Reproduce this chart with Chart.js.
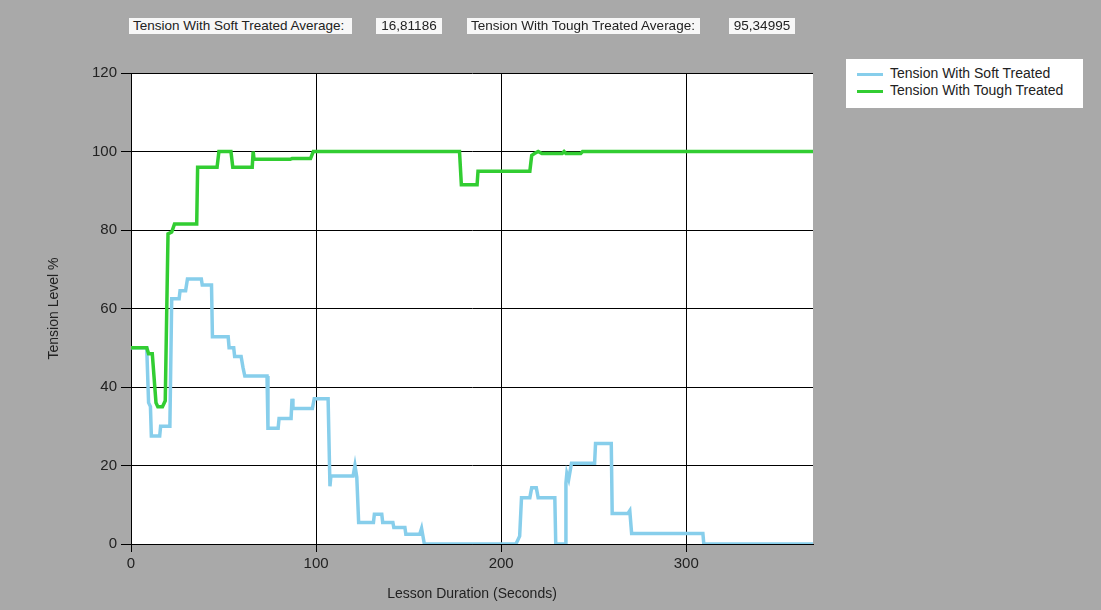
<!DOCTYPE html>
<html>
<head>
<meta charset="utf-8">
<script src="https://cdn.jsdelivr.net/npm/chart.js@4.4.1/dist/chart.umd.min.js"></script>
<style>
  body { margin: 0; background: #a9a9a9; font-family: "Liberation Sans", Arial, sans-serif; }
  #wrap { position: relative; width: 1101px; height: 610px; }
  .box { position: absolute; top: 18px; height: 16px; line-height: 16px; background: #f7f7f7;
         font-size: 13.5px; color: #222; padding: 0 4px; white-space: nowrap; }
  #legend { position: absolute; left: 846px; top: 59px; width: 237px; height: 49px; background: #fff; }
  .item { position: absolute; left: 11px; font-size: 14px; color: #222; white-space: nowrap; }
  .item span.sw { display: inline-block; width: 26px; height: 3px; vertical-align: middle; margin-right: 7px; }
</style>
</head>
<body>
<div id="wrap">
  <canvas id="chart" width="1101" height="610"></canvas>
  <div class="box" style="left:129px;width:215px">Tension With Soft Treated Average:</div>
  <div class="box" style="left:376px;width:58px;text-align:center">16,81186</div>
  <div class="box" style="left:467px;width:225px">Tension With Tough Treated Average:</div>
  <div class="box" style="left:729px;width:58px;text-align:center">95,34995</div>
  <div id="legend"></div>
</div>
<script>
// lesson time (s) / tension level (%)
const softTimes = [0, 8.5, 9.5, 10.5, 11, 15.5, 16, 21, 22, 26, 26.5, 29.5, 30.5, 38, 38.5, 43.5, 44, 52.5, 53, 55.5,
  56, 59.5, 60.5, 61.5, 73.5, 74, 79.5, 80, 86.5, 87, 87.5, 98, 99, 106.5, 107.5, 108, 120, 121, 122, 123,
  131, 131.5, 135.5, 136, 141.5, 142, 148, 148.5, 156, 157, 158.5, 208, 210, 211, 215.5, 216.5, 219, 220, 229, 229.5,
  234.5, 235, 235.5, 236.5, 238, 250.5, 251, 259.5, 260, 268.5, 269.5, 270.5, 309, 309.5, 368.5];
const softValues = [50, 50, 36, 35, 27.5, 27.5, 30, 30, 62.5, 62.5, 64.5, 64.5, 67.5, 67.5, 66, 66, 52.8, 52.8, 50, 50,
  47.8, 47.8, 45, 42.8, 42.8, 29.5, 29.5, 32, 32, 37, 34.5, 34.5, 37, 37, 14.7, 17.3, 17.3, 20, 17, 5.5,
  5.5, 7.6, 7.6, 5.5, 5.5, 4.2, 4.2, 2.5, 2.5, 4, 0, 0, 2, 11.8, 11.8, 14.3, 14.3, 11.8, 11.8, 0,
  0, 15.5, 18, 16.5, 20.6, 20.6, 25.6, 25.6, 7.8, 7.8, 8.5, 2.7, 2.7, 0, 0];

const toughTimes = [0, 8.5, 9.5, 11.5, 13.5, 14.5, 17, 18.5, 20, 22, 23.5, 35.5, 36, 46.5, 47.5, 54, 55, 65.5, 66, 66.5,
  86, 87, 97, 98.5, 177.5, 178.5, 187, 187.5, 215.5, 216.5, 218, 220, 222, 233, 234, 235, 243, 244, 368.5];
const toughValues = [50, 50, 48.5, 48.5, 36, 35, 35, 36.5, 79, 79.5, 81.5, 81.5, 96, 96, 100, 100, 96, 96, 100, 98,
  98, 98.2, 98.2, 100, 100, 91.5, 91.5, 95, 95, 99, 99.5, 100, 99.5, 99.5, 100, 99.5, 99.5, 100, 100];

const seriesNames = ['Tension With Soft Treated', 'Tension With Tough Treated'];
const seriesColors = ['#87ceeb', '#32cd32'];
const xMax = 368.5;

function pairs(ts, vs){
  return ts.map((t, i) => ({x: t, y: vs[i]}));
}

// grey surround + white plot area
const plotBg = {
  id: 'plotBg',
  beforeDraw(chart){
    const {ctx, chartArea: a} = chart;
    ctx.save();
    ctx.fillStyle = '#a9a9a9';
    ctx.fillRect(0, 0, chart.width, chart.height);
    ctx.fillStyle = '#fff';
    ctx.fillRect(a.left, a.top, a.right - a.left, a.bottom - a.top);
    ctx.restore();
  }
};

const tickFont = { family: '"Liberation Sans", Arial, sans-serif', size: 15 };
const titleFont = { family: '"Liberation Sans", Arial, sans-serif', size: 14 };

new Chart(document.getElementById('chart'), {
  type: 'line',
  data: {
    datasets: [
      // green drawn over blue, like the original
      { label: seriesNames[0], data: pairs(softTimes, softValues), borderColor: seriesColors[0], borderWidth: 3.5, pointRadius: 0, tension: 0, order: 1 },
      { label: seriesNames[1], data: pairs(toughTimes, toughValues), borderColor: seriesColors[1], borderWidth: 3.5, pointRadius: 0, tension: 0, order: 0 }
    ]
  },
  options: {
    responsive: false,
    animation: false,
    layout: { padding: { left: 0, top: 73, right: 288, bottom: 0 } },
    plugins: { legend: { display: false }, tooltip: { enabled: false } },
    scales: {
      x: {
        type: 'linear', min: 0, max: xMax,
        ticks: { stepSize: 100, includeBounds: false, font: tickFont, color: '#222', padding: 3, maxRotation: 0 },
        grid: { color: '#000', tickLength: 8, tickColor: '#000' },
        border: { color: '#000' },
        title: { display: true, text: 'Lesson Duration (Seconds)', font: titleFont, color: '#222', padding: { top: 0, bottom: 7 } },
        afterFit: s => { s.height = 66; }
      },
      y: {
        min: 0, max: 120,
        ticks: { stepSize: 20, font: tickFont, color: '#222', padding: 4 },
        grid: { color: '#000', tickLength: 10, tickColor: '#000' },
        border: { color: '#000' },
        title: { display: true, text: 'Tension Level %', font: titleFont, color: '#222', padding: { top: 46, bottom: 0 } },
        afterFit: s => { s.width = 131; }
      }
    }
  },
  plugins: [plotBg]
});

// legend box on the right
const leg = document.getElementById('legend');
seriesNames.forEach((n, i) => {
  const d = document.createElement('div');
  d.className = 'item';
  d.style.top = (6 + i * 17) + 'px';
  d.innerHTML = '<span class="sw" style="background:' + seriesColors[i] + '"></span>' + n;
  leg.appendChild(d);
});
</script>
</body>
</html>
